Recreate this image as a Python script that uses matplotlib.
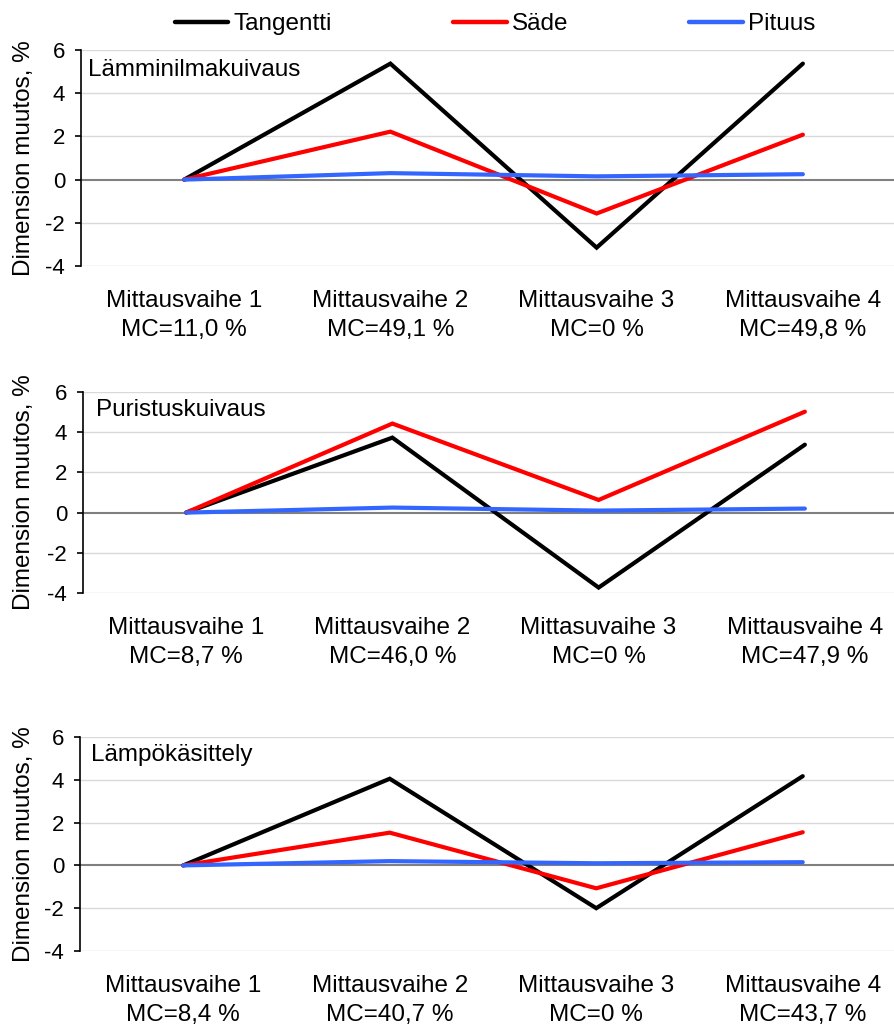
#!/usr/bin/env python3

import matplotlib
matplotlib.use('Agg')
import matplotlib.pyplot as plt
from matplotlib.lines import Line2D

plt.rcParams['font.family'] = ['Liberation Sans', 'DejaVu Sans']

# Data
series_names = ['Tangentti', 'Säde', 'Pituus']
series_colors = ['#000000', '#ff0000', '#3366ff']

panel_titles = ['Lämminilmakuivaus', 'Puristuskuivaus', 'Lämpökäsittely']

panel_labels = [
    ['Mittausvaihe 1\nMC=11,0 %', 'Mittausvaihe 2\nMC=49,1 %',
     'Mittausvaihe 3\nMC=0 %', 'Mittausvaihe 4\nMC=49,8 %'],
    ['Mittausvaihe 1\nMC=8,7 %', 'Mittausvaihe 2\nMC=46,0 %',
     'Mittasuvaihe 3\nMC=0 %', 'Mittausvaihe 4\nMC=47,9 %'],
    ['Mittausvaihe 1\nMC=8,4 %', 'Mittausvaihe 2\nMC=40,7 %',
     'Mittausvaihe 3\nMC=0 %', 'Mittausvaihe 4\nMC=43,7 %'],
]

tangentti = [
    [0, 5.37, -3.15, 5.37],
    [0, 3.73, -3.73, 3.38],
    [0, 4.05, -2.0, 4.17],
]
sade = [
    [0, 2.22, -1.57, 2.08],
    [0, 4.43, 0.63, 5.02],
    [0, 1.53, -1.07, 1.55],
]
pituus = [
    [0, 0.30, 0.15, 0.25],
    [0, 0.25, 0.10, 0.20],
    [0, 0.20, 0.10, 0.15],
]

yticks = [-4, -2, 0, 2, 4, 6]

# Axes placement in pixels (left, top, right, bottom) and title offsets
W, H = 895, 1027
boxes = [
    (81, 50, 906, 266),
    (83, 392, 908, 593),
    (80, 737, 906, 951),
]
title_pos = [(0.009, 0.907), (0.016, 0.91), (0.013, 0.916)]

fig = plt.figure(figsize=(W / 100, H / 100), dpi=100)

FS = 17.5
TICK_FS = 16

for i, (l, t, r, b) in enumerate(boxes):
    ax = fig.add_axes([l / W, 1 - b / H, (r - l) / W, (b - t) / H])
    x = range(len(panel_labels[i]))
    for vals, name, color in zip([tangentti[i], sade[i], pituus[i]], series_names, series_colors):
        ax.plot(x, vals, color=color, linewidth=3.0, solid_capstyle='round',
                solid_joinstyle='miter', label=name, zorder=3)

    ax.set_xlim(-0.5, 3.5)
    ax.set_ylim(-4, 6)
    ax.set_yticks(yticks)
    ax.set_yticklabels([str(v) for v in yticks], fontsize=TICK_FS)
    for v in yticks:
        if v != 0:
            ax.axhline(v, color='#d9d9d9', linewidth=1.0, zorder=1)
    ax.axhline(0, color='#808080', linewidth=1.5, zorder=2)

    ax.set_xticks(list(x))
    ax.set_xticklabels(panel_labels[i], fontsize=FS, linespacing=1.45)
    ax.tick_params(axis='x', length=0, pad=17)
    ax.tick_params(axis='y', length=4.5, width=1.2, pad=7, direction='out')

    for side in ['top', 'right', 'bottom']:
        ax.spines[side].set_visible(False)
    ax.spines['left'].set_linewidth(1.2)

    ax.set_ylabel('Dimension muutos, %', fontsize=FS)
    ax.yaxis.set_label_coords(35 / W, 1 - ((t + b) / 2) / H, transform=fig.transFigure)
    ax.text(title_pos[i][0], title_pos[i][1], panel_titles[i], transform=ax.transAxes,
            fontsize=FS, ha='left', va='center')

handles = [Line2D([0], [0], color=c, linewidth=3.2, solid_capstyle='round')
           for c in series_colors]
fig.legend(handles, series_names, loc='center', bbox_to_anchor=(495 / W, 1 - 24 / H),
           ncol=3, frameon=False, fontsize=FS, handlelength=2.2,
           handletextpad=0.2, columnspacing=5.0)

fig.savefig('out.png', dpi=100)
